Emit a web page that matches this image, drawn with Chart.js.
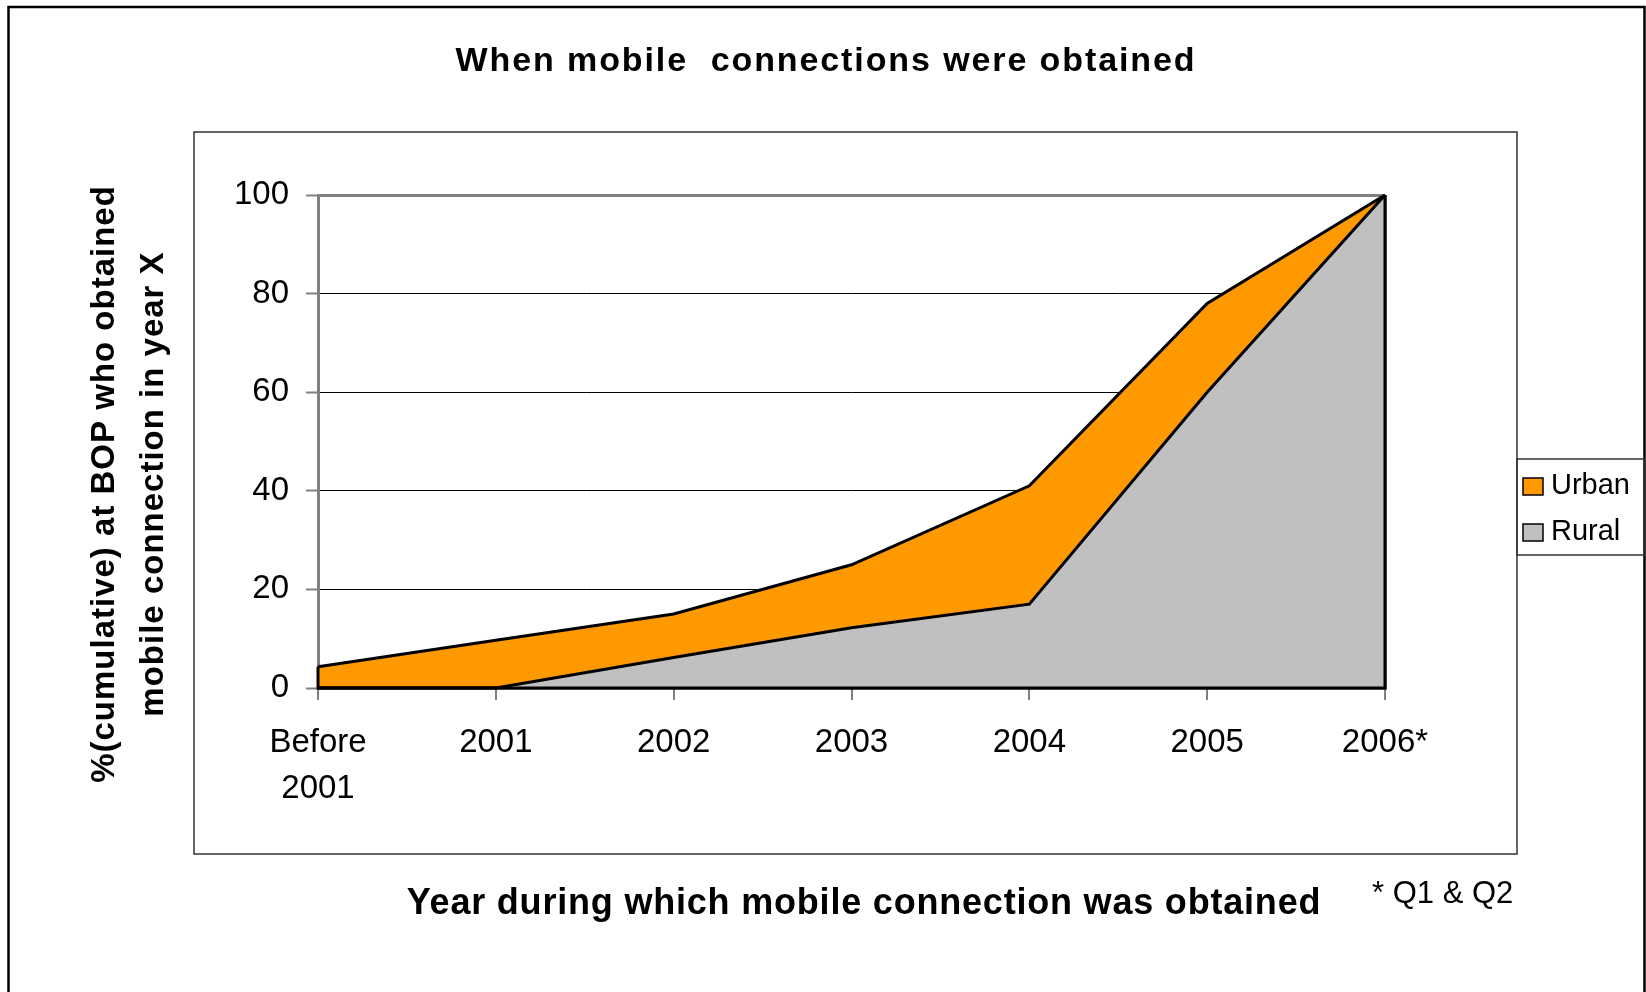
<!DOCTYPE html>
<html>
<head>
<meta charset="utf-8">
<script src="https://cdn.jsdelivr.net/npm/chart.js@4.4.1/dist/chart.umd.min.js"></script>
<style>
  html, body { margin: 0; padding: 0; background: #fff; }
  canvas { display: block; }
</style>
</head>
<body>
<canvas id="myChart" width="1646" height="992"></canvas>
<script>
// values (cumulative %)
const years = ["Before 2001", "2001", "2002", "2003", "2004", "2005", "2006*"];
const urbanValues = [4.3, 9.7, 15, 25, 41, 78, 100];
const ruralValues = [0, 0, 6.2, 12.2, 17, 60, 100];
const yTicks = [0, 20, 40, 60, 80, 100];

const chartTitle = "When mobile  connections were obtained";
const xTitle = "Year during which mobile connection was obtained";
const yTitle = ["%(cumulative) at BOP who obtained", "mobile connection in year X"];
const footNote = "* Q1 & Q2";

const FONT = "'Liberation Sans', Arial, sans-serif";

// closes each area like Excel does (vertical ends + baseline)
const areaOutline = {
  id: "areaOutline",
  afterDatasetDraw(chart, args) {
    const pts = args.meta.data;
    const ctx = chart.ctx;
    const base = chart.scales.y.getPixelForValue(0);
    const first = pts[0], last = pts[pts.length - 1];
    ctx.save();
    ctx.strokeStyle = "#000";
    ctx.lineWidth = 3;
    ctx.beginPath();
    ctx.moveTo(first.x, first.y);
    ctx.lineTo(first.x, base);
    ctx.lineTo(last.x, base);
    ctx.lineTo(last.x, last.y);
    ctx.stroke();
    ctx.restore();
  }
};

const frames = {
  id: "frames",
  beforeDraw(chart) {
    const ctx = chart.ctx;
    ctx.save();
    ctx.fillStyle = "#fff";
    ctx.fillRect(0, 0, chart.width, chart.height);
    // outer border
    ctx.strokeStyle = "#000";
    ctx.lineWidth = 2.5;
    ctx.strokeRect(8.5, 7, 1636, 995);
    // plot box
    ctx.strokeStyle = "#333";
    ctx.lineWidth = 1.5;
    ctx.strokeRect(194, 132, 1323, 722);
    // legend box
    ctx.strokeRect(1517, 459, 127, 96);
    ctx.restore();
  },
  afterDraw(chart) {
    const ctx = chart.ctx;
    ctx.save();
    ctx.fillStyle = "#000";
    ctx.textBaseline = "alphabetic";

    // title
    ctx.font = "bold 34px " + FONT;
    ctx.letterSpacing = "1.9px";
    ctx.textAlign = "center";
    ctx.fillText(chartTitle, 826, 71);

    // x axis title
    ctx.font = "bold 36px " + FONT;
    ctx.letterSpacing = "0.8px";
    ctx.fillText(xTitle, 864, 914);

    // y axis title
    ctx.font = "bold 33px " + FONT;
    ctx.letterSpacing = "1px";
    ctx.save();
    ctx.translate(113.5, 484);
    ctx.rotate(-Math.PI / 2);
    ctx.fillText(yTitle[0], 0, 0);
    ctx.fillText(yTitle[1], 0, 49.5);
    ctx.restore();

    // footnote
    ctx.letterSpacing = "0px";
    ctx.font = "31px " + FONT;
    ctx.textAlign = "left";
    ctx.fillText(footNote, 1372, 903);

    // legend (Urban first)
    ctx.font = "29px " + FONT;
    const items = chart.data.datasets.slice().reverse();
    items.forEach((ds, i) => {
      const y = 478 + i * 46;
      ctx.fillStyle = ds.backgroundColor;
      ctx.fillRect(1523, y, 20, 17);
      ctx.strokeStyle = "#000";
      ctx.lineWidth = 1.5;
      ctx.strokeRect(1523, y, 20, 17);
      ctx.fillStyle = "#000";
      ctx.fillText(ds.label, 1551, y + 16);
    });
    ctx.restore();
  }
};

const ctx = document.getElementById("myChart");
const chart = new Chart(ctx, {
  type: "line",
  data: {
    labels: years,
    datasets: [
      {
        label: "Rural",
        data: ruralValues,
        fill: "origin",
        backgroundColor: "#C0C0C0",
        borderColor: "#000",
        borderWidth: 3,
        pointRadius: 0,
        tension: 0,
        clip: false
      },
      {
        label: "Urban",
        data: urbanValues,
        fill: "origin",
        backgroundColor: "#FF9900",
        borderColor: "#000",
        borderWidth: 3,
        pointRadius: 0,
        tension: 0,
        clip: false
      }
    ]
  },
  options: {
    responsive: false,
    animation: false,
    layout: {
      padding: { left: 0, top: 195, right: 261, bottom: 0 }
    },
    plugins: {
      legend: { display: false },
      title: { display: false },
      tooltip: { enabled: false }
    },
    scales: {
      x: {
        offset: false,
        afterFit(scale) { scale.height = 304; },
        grid: {
          drawOnChartArea: false,
          drawTicks: true,
          tickLength: 12,
          tickColor: "#808080",
          lineWidth: 2
        },
        border: { color: "#808080", width: 2 },
        ticks: {
          color: "#000",
          padding: 20,
          maxRotation: 0,
          autoSkip: false,
          font: { family: FONT, size: 33, lineHeight: 1.4 },
          callback(value) {
            const lbl = this.getLabelForValue(value);
            return lbl.includes(" ") ? lbl.split(" ") : lbl;
          }
        }
      },
      y: {
        min: 0,
        max: 100,
        afterFit(scale) { scale.width = 318; },
        afterBuildTicks(scale) { scale.ticks = yTicks.map(v => ({ value: v })); },
        grid: {
          color: (c) => (c.tick && c.tick.value === 100 ? "#808080" : "#000"),
          lineWidth: (c) => (c.tick && c.tick.value === 100 ? 3 : 1),
          tickColor: "#808080",
          tickLength: 12,
          tickWidth: 2
        },
        border: { color: "#808080", width: 3 },
        ticks: {
          color: "#000",
          padding: 17,
          font: { family: FONT, size: 33 }
        }
      }
    }
  },
  plugins: [frames, areaOutline]
});
</script>
</body>
</html>
